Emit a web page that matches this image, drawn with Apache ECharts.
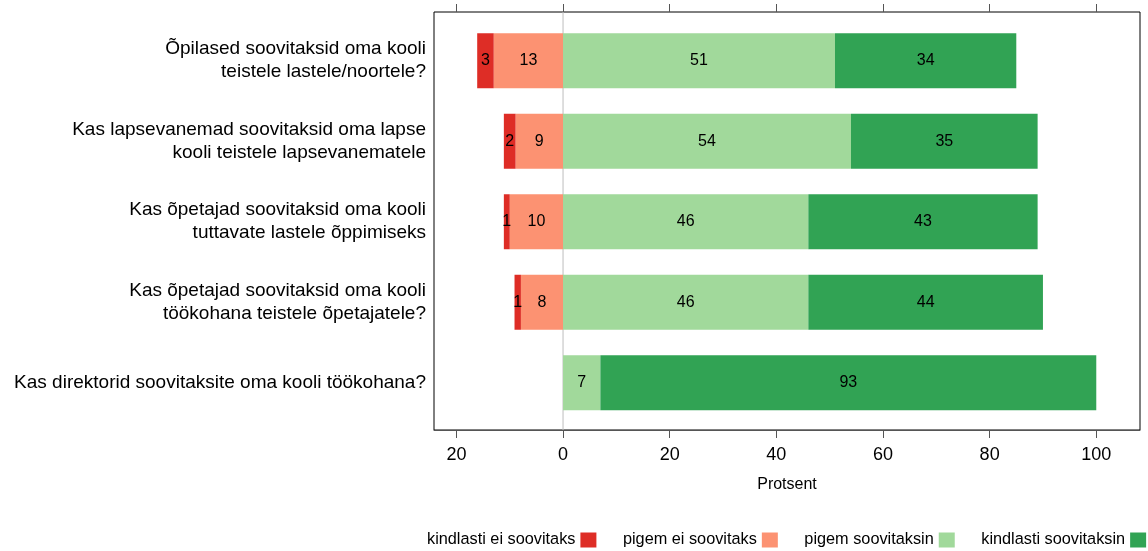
<!DOCTYPE html>
<html>
<head>
<meta charset="utf-8">
<script src="https://cdn.jsdelivr.net/npm/echarts@6/dist/echarts.min.js"></script>
<style>
html,body{margin:0;padding:0;background:#fff;}
#chart{width:1148px;height:551px;}
</style>
</head>
<body>
<div id="chart"></div>
<script>
const categories = [
  "Õpilased soovitaksid oma kooli\nteistele lastele/noortele?",
  "Kas lapsevanemad soovitaksid oma lapse\nkooli teistele lapsevanematele",
  "Kas õpetajad soovitaksid oma kooli\ntuttavate lastele õppimiseks",
  "Kas õpetajad soovitaksid oma kooli\ntöökohana teistele õpetajatele?",
  "Kas direktorid soovitaksite oma kooli töökohana?"
];
const seriesNames = ["kindlasti ei soovitaks", "pigem ei soovitaks", "pigem soovitaksin", "kindlasti soovitaksin"];
const kindlastiEi = [3.1, 2.2, 1.1, 1.2, null];
const pigemEi = [13.0, 8.9, 10.0, 7.9, null];
const pigem = [51, 54, 46, 46, 7];
const kindlasti = [34, 35, 43, 44, 93];
const tickValues = [-20, 0, 20, 40, 60, 80, 100];
const colors = ["#DE2D26", "#FC9272", "#A1D99B", "#31A354"];

const FONT = "'Liberation Sans', Arial, sans-serif";
const chart = echarts.init(document.getElementById('chart'), null, {renderer: 'canvas'});

const neg = arr => arr.map(v => v == null ? null : -v);
const labelCfg = {
  show: true, position: 'inside', color: '#000', fontSize: 16, fontFamily: FONT,
  formatter: p => (p.value == null ? '' : String(Math.round(Math.abs(p.value))))
};
const XMIN = -24.2, XMAX = 108.2;

function barSeries(name, data, color) {
  return {
    name: name, type: 'bar', stack: 'total', xAxisIndex: 2, yAxisIndex: 1,
    data: data, barWidth: 55, itemStyle: {color: color}, label: labelCfg, z: 3,
    emphasis: {disabled: true}, animation: false
  };
}

chart.setOption({
  animation: false,
  textStyle: {fontFamily: FONT},
  grid: [
    {left: 434, top: 12, width: 706, height: 418, show: true, borderColor: '#000', borderWidth: 1, backgroundColor: 'transparent'},
    {left: 434, top: 20.5, width: 706, height: 402.5}
  ],
  xAxis: [
    {gridIndex: 0, type: 'value', position: 'bottom', min: XMIN, max: XMAX,
     axisLine: {show: true, lineStyle: {color: '#555', width: 1}}, splitLine: {show: false},
     axisTick: {show: true, inside: false, length: 8, lineStyle: {color: '#555'}, customValues: tickValues},
     axisLabel: {show: true, customValues: tickValues, formatter: v => String(Math.abs(v)), fontSize: 18, color: '#000', margin: 16, fontFamily: FONT},
     name: 'Protsent', nameLocation: 'middle', nameGap: 47, nameTextStyle: {fontSize: 16, color: '#000', fontFamily: FONT}},
    {gridIndex: 0, type: 'value', position: 'top', min: XMIN, max: XMAX,
     axisLine: {show: false}, splitLine: {show: false},
     axisTick: {show: true, inside: false, length: 8, lineStyle: {color: '#555'}, customValues: tickValues},
     axisLabel: {show: false}},
    {gridIndex: 1, type: 'value', min: XMIN, max: XMAX, show: false}
  ],
  yAxis: [
    {gridIndex: 0, type: 'value', min: 0, max: 1, show: false},
    {gridIndex: 1, type: 'category', data: categories, inverse: true,
     axisLine: {show: false}, axisTick: {show: false}, splitLine: {show: false},
     axisLabel: {fontSize: 19, lineHeight: 23, color: '#000', align: 'right', margin: 8, padding: [0, 0, 4, 0], fontFamily: FONT}}
  ],
  legend: {
    data: seriesNames, left: 427, top: 532, align: 'right', orient: 'horizontal', padding: 0,
    icon: 'rect', itemWidth: 16, itemHeight: 15, itemGap: 26.5,
    textStyle: {fontSize: 16.3, color: '#000', fontFamily: FONT}, selectedMode: false
  },
  series: [
    {type: 'line', xAxisIndex: 0, yAxisIndex: 0, data: [[0, 0], [0, 1]], symbol: 'none',
     lineStyle: {color: '#BDBDBD', width: 1}, silent: true, z: 1, tooltip: {show: false}},
    barSeries(seriesNames[1], neg(pigemEi), colors[1]),
    barSeries(seriesNames[0], neg(kindlastiEi), colors[0]),
    barSeries(seriesNames[2], pigem, colors[2]),
    barSeries(seriesNames[3], kindlasti, colors[3])
  ]
});
</script>
</body>
</html>
